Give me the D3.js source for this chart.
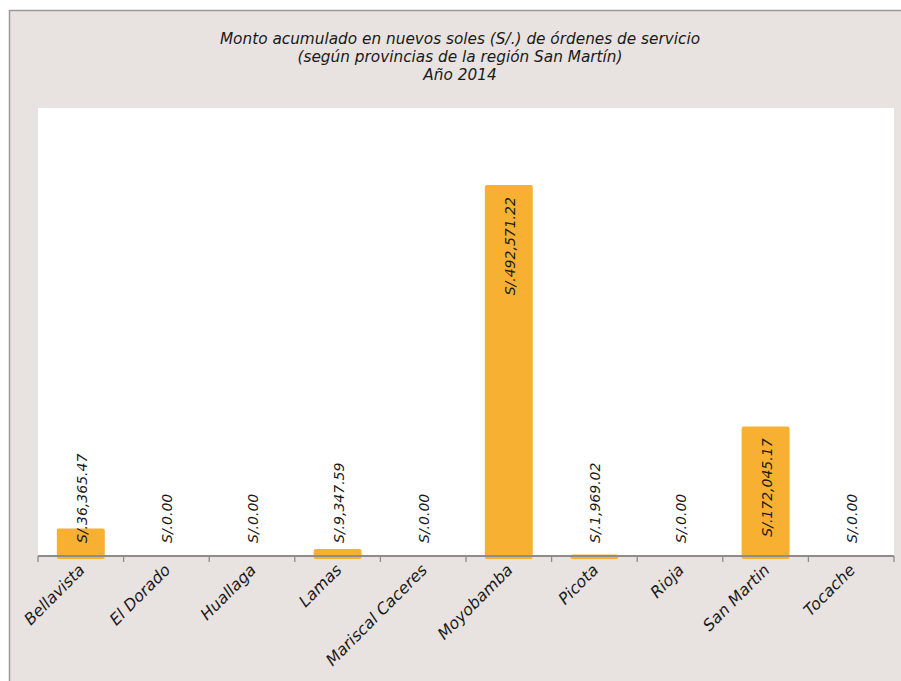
<!DOCTYPE html>
<html><head><meta charset="utf-8">
<script src="https://cdn.jsdelivr.net/npm/d3@7"></script>
<style>
html,body{margin:0;padding:0;background:#fff;}
svg{display:block;}
text{font-family:"DejaVu Sans",sans-serif;font-style:italic;fill:#1a1a1a;}
</style></head><body>
<svg id="c" width="901" height="681"></svg>
<script>
const categories = ["Bellavista","El Dorado","Huallaga","Lamas","Mariscal Caceres","Moyobamba","Picota","Rioja","San Martin","Tocache"];
const values = [36365.47, 0, 0, 9347.59, 0, 492571.22, 1969.02, 0, 172045.17, 0];
const valueLabels = ["S/.36,365.47","S/.0.00","S/.0.00","S/.9,347.59","S/.0.00","S/.492,571.22","S/.1,969.02","S/.0.00","S/.172,045.17","S/.0.00"];
const titleLines = ["Monto acumulado en nuevos soles (S/.) de órdenes de servicio","(según provincias de la región San Martín)","Año 2014"];

const svg = d3.select("#c");
const W = 901, H = 681;
// frame
svg.append("rect").attr("x",0).attr("y",0).attr("width",W).attr("height",H).attr("fill","#fff");
svg.append("rect").attr("x",9).attr("y",10).attr("width",W-9).attr("height",H-10).attr("fill","#e8e3e0");
svg.append("line").attr("x1",9).attr("x2",W).attr("y1",10.5).attr("y2",10.5).attr("stroke","#9a9a9a").attr("stroke-width",1.5);
svg.append("line").attr("x1",9.5).attr("x2",9.5).attr("y1",10).attr("y2",H).attr("stroke","#9a9a9a").attr("stroke-width",1.5);

const plot = {l:38, r:894, t:108, b:556};
svg.append("rect").attr("x",plot.l).attr("y",plot.t).attr("width",plot.r-plot.l).attr("height",plot.b-plot.t+1).attr("fill","#fff");

// title
const tY = [44, 62, 79.5];
titleLines.forEach((t,i)=>{
  svg.append("text").attr("x",460).attr("y",tY[i]).attr("text-anchor","middle")
    .style("font-size","15.3px").attr("fill","#222").text(t);
});

const x = d3.scaleBand().domain(categories).range([plot.l, plot.r]).paddingInner(0.44).paddingOuter(0.22);
const y = d3.scaleLinear().domain([0, 595000]).range([plot.b, plot.t]);
const step = x.step();

// bars
svg.append("g").selectAll("rect").data(values).join("rect")
  .attr("x",(d,i)=>x(categories[i])+2)
  .attr("width",x.bandwidth()-4)
  .attr("y",d=>y(d)+2)
  .attr("height",d=>Math.max(0, plot.b - y(d) - 1))
  .attr("fill","#f7b032")
  .attr("stroke","#f7b032").attr("stroke-width",4).attr("stroke-linejoin","round")
  .attr("display",d=>d>0?null:"none");

// axis
const axisG = svg.append("g").attr("transform",`translate(0,${plot.b})`);
axisG.append("line").attr("x1",plot.l).attr("x2",plot.r).attr("y1",0).attr("y2",0).attr("stroke","#8c8c8c").attr("stroke-width",2);
d3.range(categories.length+1).forEach(i=>{
  const xx = plot.l + i*step;
  axisG.append("line").attr("x1",xx).attr("x2",xx).attr("y1",0).attr("y2",6).attr("stroke","#8c8c8c").attr("stroke-width",1.3);
});
categories.forEach((c,i)=>{
  const cx = x(c)+x.bandwidth()/2;
  axisG.append("text").attr("transform",`translate(${cx+5},${15}) rotate(-45)`)
    .attr("text-anchor","end").style("font-size","16px").text(c);
});

// value labels
values.forEach((v,i)=>{
  const cx = x(categories[i])+x.bandwidth()/2;
  const h = plot.b - y(v);
  let ty, anchor;
  if (h > 120) { ty = y(v) + 12; anchor = "end"; }
  else { ty = plot.b - 13; anchor = "start"; }
  svg.append("text").attr("transform",`translate(${cx+1},${ty}) rotate(-90)`)
    .attr("text-anchor",anchor).attr("dy","0.36em").style("font-size","14px").text(valueLabels[i]);
});
</script></body></html>
